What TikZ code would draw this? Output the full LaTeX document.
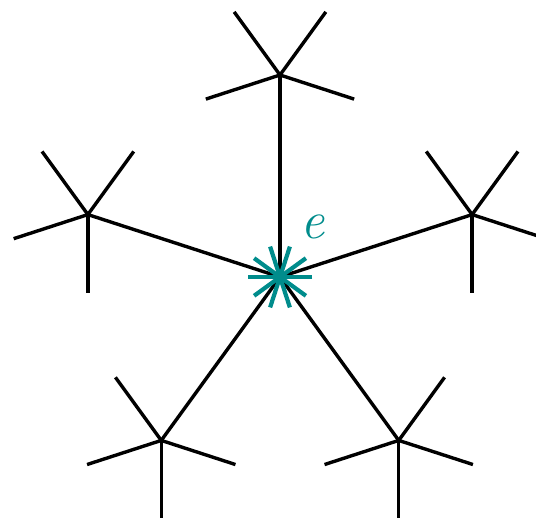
\documentclass[tikz,border=0pt]{standalone}
\usepackage{tikz}

\definecolor{vertexteal}{RGB}{0,140,140}
\tikzset{
  edge/.style={line width=3.4bp, black},
  starline/.style={line width=4.2bp, vertexteal},
}

\begin{document}
\begin{tikzpicture}[x=1bp,y=1bp]
    \useasboundingbox (-280,-247) rectangle (256,277);

    % central vertex
    \coordinate (c) at (0,0);

    % five outer vertices, each with four free legs
    \foreach \a [count=\i] in {90,162,234,306,18} {
        \coordinate (v\i) at (\a:202);
        \draw[edge] (c) -- (v\i);
        \foreach \k in {1,...,4} {
            \coordinate (v\i-\k) at ([shift={(\a+180+72*\k:78)}]v\i);
            \draw[edge] (v\i) -- (v\i-\k);
        }
    }

    % marker on the central vertex
    \foreach \t in {0,36,...,144}
        \draw[starline] (\t:32) -- (\t+180:32);

    \node[text=vertexteal, font=\fontsize{54}{60}\selectfont\itshape] (lbl) at (33,50) {e};
\end{tikzpicture}
\end{document}
